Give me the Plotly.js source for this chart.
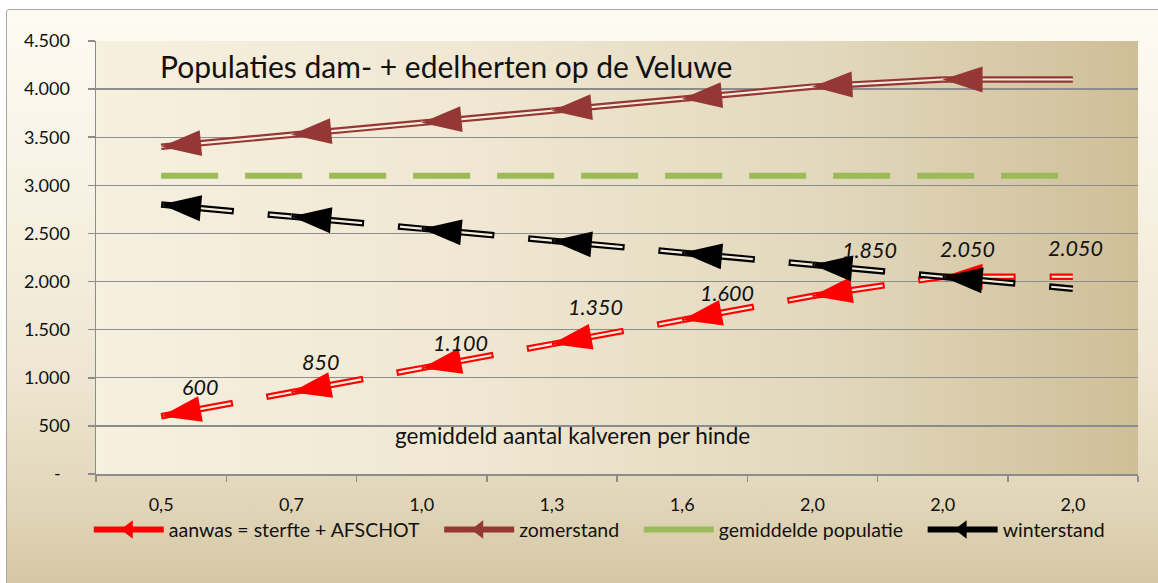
<!DOCTYPE html>
<html>
<head>
<meta charset="utf-8">
<script src="https://cdn.plot.ly/plotly-3.0.1.min.js"></script>
<style>
  body { margin: 0; background: #fff; }
  #wrap { position: relative; width: 1158px; height: 583px; overflow: hidden; background: #fff; }
  #frame {
    position: absolute; left: 6px; top: 9px; width: 1170px; height: 600px;
    border: 1.5px solid #a6a6a6; border-radius: 3px;
    background: linear-gradient(to bottom, #fefbf3 0%, #f6f0e1 35%, #efe7d3 60%, #e1d6b9 82%, #d1c29e 100%);
  }
  #plotbg {
    position: absolute; left: 96px; top: 41px; width: 1042px; height: 433px;
    background: linear-gradient(to right, #f6f0df 0%, #f0e8d3 35%, #e2d8bd 70%, #cfbf98 100%);
  }
  #chart { position: absolute; left: 0; top: 0; width: 1158px; height: 583px; }
</style>
</head>
<body>
<div id="wrap">
  <div id="frame"></div>
  <div id="plotbg"></div>
  <div id="chart"></div>
</div>
<script>
// kalveren per hinde
var categories = ["0,5", "0,7", "1,0", "1,3", "1,6", "2,0", "2,0", "2,0"];
var aanwas = [600, 850, 1100, 1350, 1600, 1850, 2050, 2050];
var zomerstand = [3400, 3525, 3650, 3775, 3900, 4025, 4100, 4100];
var gemiddeld = [3100, 3100, 3100, 3100, 3100, 3100, 3100, 3100];
var winterstand = [2800, 2675, 2550, 2425, 2300, 2175, 2050, 1925];

var yTickVals = [0, 500, 1000, 1500, 2000, 2500, 3000, 3500, 4000, 4500];
var yTickText = ["-\u00a0\u00a0", "500", "1.000", "1.500", "2.000", "2.500", "3.000", "3.500", "4.000", "4.500"];

// small nudges for the red data labels (px), like they were dragged in excel
var labelDx = [39, 29, 39, 44, 45, 57, 25, 3];
var labelDy = [29, 30, 25, 37, 27, 46, 28, 29];

var FONT = "Lato, 'Open Sans', sans-serif";
var idx = categories.map(function (c, i) { return i; });
var inner = "#f4eddc";
var gap = "\u2003"; // a bit more room between legend entries

function fmt(v) {
  return String(v).replace(/\B(?=(\d{3})+(?!\d))/g, ".");
}

// every piece between two points is its own subpath, so the dash restarts
function segs(vals) {
  var xs = [], ys = [];
  for (var i = 0; i < vals.length - 1; i++) {
    xs.push(idx[i], idx[i + 1], null);
    ys.push(vals[i], vals[i + 1], null);
  }
  return {x: xs, y: ys};
}

// arrows at the start of every piece, pointing back to the left
function arrows(vals, color) {
  var xs = idx.slice().reverse();
  var ys = vals.slice().reverse();
  return {
    x: xs, y: ys, mode: "markers", showlegend: false, hoverinfo: "skip",
    marker: {symbol: "arrow", angleref: "previous", size: 42, color: color,
             line: {width: 0}}
  };
}

function doubleLine(vals, color, dashed) {
  var s = segs(vals);
  var outer = {x: s.x, y: s.y, mode: "lines", showlegend: false, hoverinfo: "skip",
               connectgaps: false,
               line: {color: color, width: 6.5, dash: dashed ? "73px,34px" : "solid"}};
  var mid = {x: s.x, y: s.y, mode: "lines", showlegend: false, hoverinfo: "skip",
             connectgaps: false,
             line: {color: inner, width: 2.2, dash: dashed ? "0px,2px,69px,36px" : "solid"}};
  return [outer, mid, arrows(vals, color)];
}

function legendItem(name, color, arrow) {
  return {
    x: [null], y: [null], name: name,
    mode: arrow ? "lines+markers" : "lines",
    line: {color: color, width: 6},
    marker: {symbol: "triangle-left", size: 18, color: color}
  };
}

var traces = [];
traces = traces.concat(doubleLine(aanwas, "#ff0000", true));
traces = traces.concat(doubleLine(zomerstand, "#953735", false));
traces.push({x: idx, y: gemiddeld, mode: "lines", showlegend: false, hoverinfo: "skip",
             line: {color: "#9bbb59", width: 6, dash: "57px,27px"}});
traces = traces.concat(doubleLine(winterstand, "#000000", true));

traces.push(legendItem("aanwas = sterfte + AFSCHOT" + gap, "#ff0000", true));
traces.push(legendItem("zomerstand" + gap, "#953735", true));
traces.push(legendItem("gemiddelde populatie" + gap, "#9bbb59", false));
traces.push(legendItem("winterstand", "#000000", true));

var annotations = aanwas.map(function (v, i) {
  return {
    x: idx[i], y: v, xref: "x", yref: "y", text: "<i>" + fmt(v) + "</i>",
    showarrow: false, xshift: labelDx[i], yshift: labelDy[i],
    font: {family: FONT, size: 21.5, color: "#111"}
  };
});
annotations.push({
  x: 0.457, y: 0.053, xref: "paper", yref: "paper", showarrow: false,
  text: "gemiddeld aantal kalveren per hinde",
  font: {family: FONT, size: 22.5, color: "#111"}
});

var boundaries = [];
for (var b = 0; b <= categories.length; b++) boundaries.push(b - 0.5);

var layout = {
  width: 1158, height: 583,
  margin: {l: 96, r: 20, t: 41, b: 109},
  paper_bgcolor: "rgba(0,0,0,0)",
  plot_bgcolor: "rgba(0,0,0,0)",
  font: {family: FONT, size: 18, color: "#111"},
  title: {
    text: "Populaties dam- + edelherten op de Veluwe",
    x: 0.0614, xref: "paper", xanchor: "left",
    y: 0.885, yref: "container", yanchor: "middle",
    font: {family: FONT, size: 30, color: "#111"}
  },
  xaxis: {
    type: "linear", range: [-0.5, categories.length - 0.5],
    tickmode: "array", tickvals: idx, ticktext: categories,
    ticks: "", ticklabelstandoff: 14,
    showline: true, linecolor: "#8c8c8c", linewidth: 1.5,
    showgrid: false, zeroline: false, fixedrange: true,
    minor: {tickmode: "array", tickvals: boundaries, ticks: "outside", ticklen: 6,
            tickcolor: "#8c8c8c", tickwidth: 1.5, showgrid: false}
  },
  yaxis: {
    range: [0, 4500], tickmode: "array", tickvals: yTickVals, ticktext: yTickText,
    ticks: "outside", ticklen: 7, tickcolor: "#8c8c8c", tickwidth: 1.5,
    ticklabelstandoff: 14,
    showline: true, linecolor: "#8c8c8c", linewidth: 1.5,
    showgrid: true, gridcolor: "#8c8c8c", gridwidth: 1.3,
    zeroline: false, fixedrange: true
  },
  legend: {
    orientation: "h", x: 0.483, xanchor: "center", y: -0.129, yanchor: "middle",
    bgcolor: "rgba(0,0,0,0)", font: {family: FONT, size: 19.5, color: "#111"},
    itemwidth: 70, traceorder: "normal"
  },
  annotations: annotations,
  showlegend: true
};

Plotly.newPlot("chart", traces, layout, {displayModeBar: false, staticPlot: true});
</script>
</body>
</html>
